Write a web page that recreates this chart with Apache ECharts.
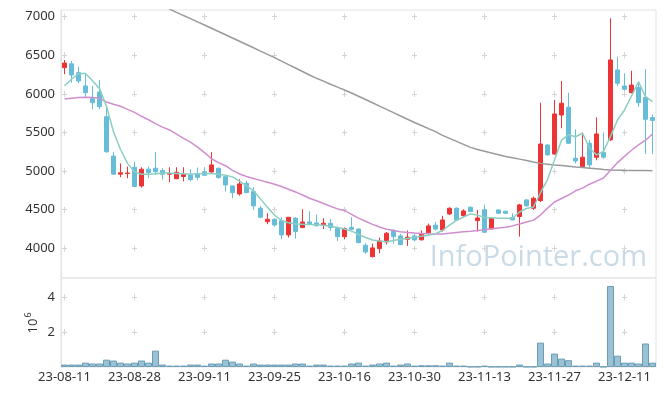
<!DOCTYPE html>
<html>
<head>
<meta charset="utf-8">
<script src="https://cdn.jsdelivr.net/npm/echarts@6/dist/echarts.min.js"></script>
<style>
html,body{margin:0;padding:0;background:#fff;}
#chart{width:665px;height:396px;}
</style>
</head>
<body>
<div id="chart"></div>
<script>
const dates = ['23-08-11','23-08-14','23-08-16','23-08-17','23-08-18','23-08-21','23-08-22','23-08-23','23-08-24','23-08-25',
'23-08-28','23-08-29','23-08-30','23-08-31','23-09-01','23-09-04','23-09-05','23-09-06','23-09-07','23-09-08',
'23-09-11','23-09-12','23-09-13','23-09-14','23-09-15','23-09-18','23-09-19','23-09-20','23-09-21','23-09-22',
'23-09-25','23-09-26','23-09-27','23-10-04','23-10-05','23-10-06','23-10-10','23-10-11','23-10-12','23-10-13',
'23-10-16','23-10-17','23-10-18','23-10-19','23-10-20','23-10-23','23-10-24','23-10-25','23-10-26','23-10-27',
'23-10-30','23-10-31','23-11-01','23-11-02','23-11-03','23-11-06','23-11-07','23-11-08','23-11-09','23-11-10',
'23-11-13','23-11-14','23-11-15','23-11-16','23-11-17','23-11-20','23-11-21','23-11-22','23-11-23','23-11-24',
'23-11-27','23-11-28','23-11-29','23-11-30','23-12-01','23-12-04','23-12-05','23-12-06','23-12-07','23-12-08',
'23-12-11','23-12-12','23-12-13','23-12-14','23-12-15'];

const openP = [6340,6390,6275,6103,5938,6025,5705,5195,4960,4968,
5050,4808,5025,5037,5006,4960,4902,4930,4950,4963,
4989,4989,5037,4928,4808,4704,4842,4734,4519,4345,
4376,4358,4173,4389,4268,4341,4328,4295,4324,4255,
4151,4272,4250,4039,3892,3996,4082,4229,4160,4117,
4160,4110,4200,4300,4237,4445,4519,4423,4532,4358,
4497,4250,4497,4480,4398,4411,4626,4519,4617,5338,
5222,5727,5827,5166,5058,5360,5179,5240,5405,6310,
6103,6016,6086,5956,5693];
const closeP = [6400,6245,6167,6016,5886,5835,5250,4960,4978,4975,
4800,5024,4980,4992,4959,4968,4985,4955,4890,4920,
4946,5080,4915,4820,4721,4834,4721,4549,4402,4376,
4302,4173,4402,4216,4341,4315,4293,4325,4268,4151,
4255,4246,4073,3953,4005,4095,4195,4151,4047,4143,
4108,4180,4290,4250,4367,4519,4367,4484,4475,4393,
4208,4389,4454,4454,4367,4562,4549,4648,5351,5210,
5740,5879,5360,5131,5180,5080,5481,5180,6440,6138,
6060,6115,5886,5671,5655];
const lowP = [6255,6145,6138,5964,5801,5800,5240,4955,4920,4907,
4795,4785,4910,4950,4890,4856,4895,4867,4867,4880,
4935,4972,4905,4735,4648,4682,4715,4497,4390,4312,
4280,4117,4140,4125,4260,4300,4280,4250,4225,4095,
4117,4237,4065,3927,3880,3936,4050,4060,4040,4030,
4090,4100,4190,4230,4216,4430,4360,4402,4470,4216,
4200,4250,4450,4450,4367,4151,4545,4497,4600,5200,
5210,5555,5350,5100,5050,5040,5140,5160,5390,6100,
6042,6008,5834,5222,5220];
const highP = [6440,6426,6353,6258,6103,6180,5815,5250,5100,5058,
5120,5050,5058,5248,5037,5050,5050,5050,5024,5045,
5050,5244,5045,4935,4810,4894,4875,4790,4549,4454,
4390,4402,4405,4405,4506,4480,4437,4390,4380,4280,
4270,4402,4250,4065,4060,4138,4210,4250,4186,4230,
4186,4230,4320,4340,4420,4530,4530,4506,4540,4497,
4565,4400,4500,4485,4454,4575,4640,4670,5886,5350,
5921,6167,6016,5540,5500,5400,5697,5500,6980,6482,
6267,6300,6158,6319,5737];

const ma5 = [6105,6190,6265,6265,6170,6070,5840,5510,5280,5100,
4990,4960,4960,4965,4975,4975,4970,4965,4960,4965,
4970,4968,4960,4945,4925,4870,4810,4745,4640,4530,
4430,4360,4330,4315,4310,4308,4305,4298,4285,4268,
4250,4225,4178,4140,4108,4095,4086,4100,4118,4128,
4142,4155,4170,4190,4230,4300,4360,4405,4445,4430,
4400,4395,4390,4389,4389,4470,4515,4535,4720,4890,
5144,5400,5470,5445,5490,5300,5210,5255,5450,5662,
5792,5973,6158,5964,5899];
const ma20 = [5934,5945,5952,5956,5953,5943,5895,5865,5840,5800,
5760,5710,5665,5615,5570,5533,5480,5425,5375,5310,
5240,5160,5110,5070,5010,4963,4930,4905,4880,4855,
4830,4800,4765,4730,4690,4648,4615,4580,4545,4510,
4490,4440,4390,4350,4310,4275,4247,4230,4215,4205,
4198,4193,4188,4184,4185,4195,4205,4215,4222,4230,
4240,4252,4262,4272,4290,4315,4340,4365,4430,4520,
4600,4645,4690,4745,4780,4830,4870,4910,5010,5110,
5190,5270,5340,5400,5480];
const ma120 = [7850,7800,7750,7700,7650,7600,7550,7500,7450,7400,
7350,7300,7260,7220,7180,7100,7057,7015,6975,6934,
6892,6850,6808,6766,6724,6682,6640,6598,6555,6513,
6470,6425,6380,6335,6290,6245,6202,6165,6125,6088,
6050,6012,5970,5928,5885,5842,5800,5757,5714,5672,
5630,5590,5550,5512,5463,5424,5385,5346,5307,5280,
5258,5235,5213,5190,5172,5155,5137,5118,5100,5090,
5080,5071,5062,5053,5046,5038,5030,5020,5014,5012,
5010,5009,5008,5007,5006];

const volMillions = [0.14,0.14,0.14,0.25,0.2,0.2,0.42,0.37,0.25,0.2,
0.25,0.37,0.25,0.94,0.14,0.08,0.08,0.08,0.14,0.14,
0.08,0.2,0.2,0.42,0.31,0.2,0.08,0.2,0.14,0.14,
0.14,0.14,0.14,0.2,0.2,0.08,0.14,0.14,0.08,0.08,
0.08,0.2,0.25,0.08,0.14,0.2,0.25,0.08,0.14,0.2,
0.08,0.1,0.1,0.1,0.08,0.25,0.08,0.08,0.02,0.02,
0.08,0.02,0.02,0.02,0.02,0.14,0.02,0.02,1.4,0.2,
0.77,0.48,0.39,0.08,0.08,0.08,0.25,0.02,4.65,0.65,
0.25,0.25,0.2,1.35,0.25];

const candleData = dates.map((d, i) => [openP[i], closeP[i], lowP[i], highP[i]]);

const FONT = 'Noto Sans';
const GRID_COLOR = '#e3e3e3';
const MARK_COLOR = '#d4d4d4';

const chart = echarts.init(document.getElementById('chart'), null, {renderer: 'canvas'});

const option = {
  animation: false,
  backgroundColor: '#ffffff',
  textStyle: {fontFamily: FONT},
  grid: [
    {left: 61, top: 10, width: 595, height: 268, show: true, borderColor: GRID_COLOR, borderWidth: 1, backgroundColor: 'transparent'},
    {left: 61, top: 278, width: 595, height: 89, show: true, borderColor: GRID_COLOR, borderWidth: 1, backgroundColor: 'transparent'}
  ],
  xAxis: [
    {
      type: 'category', gridIndex: 0, data: dates, boundaryGap: true,
      axisLine: {show: false}, axisTick: {show: false},
      axisLabel: {show: false, interval: 9},
      splitLine: {show: true, interval: 9, alignWithLabel: true,
        lineStyle: {color: MARK_COLOR, width: 1, type: [6, 32.63], dashOffset: 34.93}}
    },
    {
      type: 'category', gridIndex: 1, data: dates, boundaryGap: true,
      axisLine: {show: false}, axisTick: {show: false},
      axisLabel: {show: true, interval: 9, color: '#333', fontSize: 13, fontFamily: FONT, margin: 4},
      splitLine: {show: true, interval: 9, alignWithLabel: true,
        lineStyle: {color: MARK_COLOR, width: 1, type: [6, 28.7, 6, 1000], dashOffset: 1024.4}}
    }
  ],
  yAxis: [
    {
      type: 'value', gridIndex: 0, min: 3615, max: 7087, splitNumber: 6, scale: true,
      axisLine: {show: true, lineStyle: {color: GRID_COLOR}},
      axisTick: {show: false},
      axisLabel: {color: '#333', fontSize: 13, fontFamily: FONT, margin: 6, showMinLabel: false, showMaxLabel: false,
        formatter: v => String(v)},
      splitLine: {show: true, showMinLine: false, showMaxLine: false,
        lineStyle: {color: MARK_COLOR, width: 1, type: [5, 65], dashOffset: -1}}
    },
    {
      type: 'value', gridIndex: 1, min: 0, max: 5.11, interval: 2,
      axisLine: {show: true, lineStyle: {color: GRID_COLOR}},
      axisTick: {show: false},
      axisLabel: {color: '#333', fontSize: 13, fontFamily: FONT, margin: 6, showMinLabel: false, showMaxLabel: false,
        formatter: v => String(v)},
      splitLine: {show: true, showMinLine: false, showMaxLine: false,
        lineStyle: {color: MARK_COLOR, width: 1, type: [5, 65], dashOffset: -1}}
    }
  ],
  series: [
    {
      type: 'candlestick', xAxisIndex: 0, yAxisIndex: 0, data: candleData, barWidth: 5,
      itemStyle: {color: '#ec3434', color0: '#67bdd8', borderColor: '#ec3434', borderColor0: '#67bdd8', borderWidth: 1}
    },
    {
      type: 'line', name: 'MA120', xAxisIndex: 0, yAxisIndex: 0, data: ma120, showSymbol: false, clip: true,
      lineStyle: {color: '#9a9a9a', width: 1.5}, z: 3
    },
    {
      type: 'line', name: 'MA20', xAxisIndex: 0, yAxisIndex: 0, data: ma20, showSymbol: false,
      lineStyle: {color: '#cf8fcf', width: 1.5}, z: 3
    },
    {
      type: 'line', name: 'MA5', xAxisIndex: 0, yAxisIndex: 0, data: ma5, showSymbol: false,
      lineStyle: {color: '#8ccfc2', width: 1.5}, z: 3
    },
    {
      type: 'bar', xAxisIndex: 1, yAxisIndex: 1, data: volMillions, barCategoryGap: '0%',
      itemStyle: {color: '#9ac2d4', borderColor: '#6b9db6', borderWidth: 1}
    }
  ],
  graphic: [
    {type: 'text', z: 0, silent: true, style: {text: 'InfoPointer.com', x: 647, y: 258, align: 'right', verticalAlign: 'middle',
      fontSize: 29, fontFamily: 'Open Sans', fill: '#c9dbe7'}},
    {type: 'text', x: 33, y: 326, rotation: Math.PI / 2, style: {text: '10', align: 'center', verticalAlign: 'middle', fontSize: 13, fontFamily: FONT, fill: '#333'}},
    {type: 'text', x: 28, y: 315, rotation: Math.PI / 2, style: {text: '6', align: 'center', verticalAlign: 'middle', fontSize: 9, fontFamily: FONT, fill: '#333'}}
  ]
};
chart.setOption(option);
</script>
</body>
</html>
